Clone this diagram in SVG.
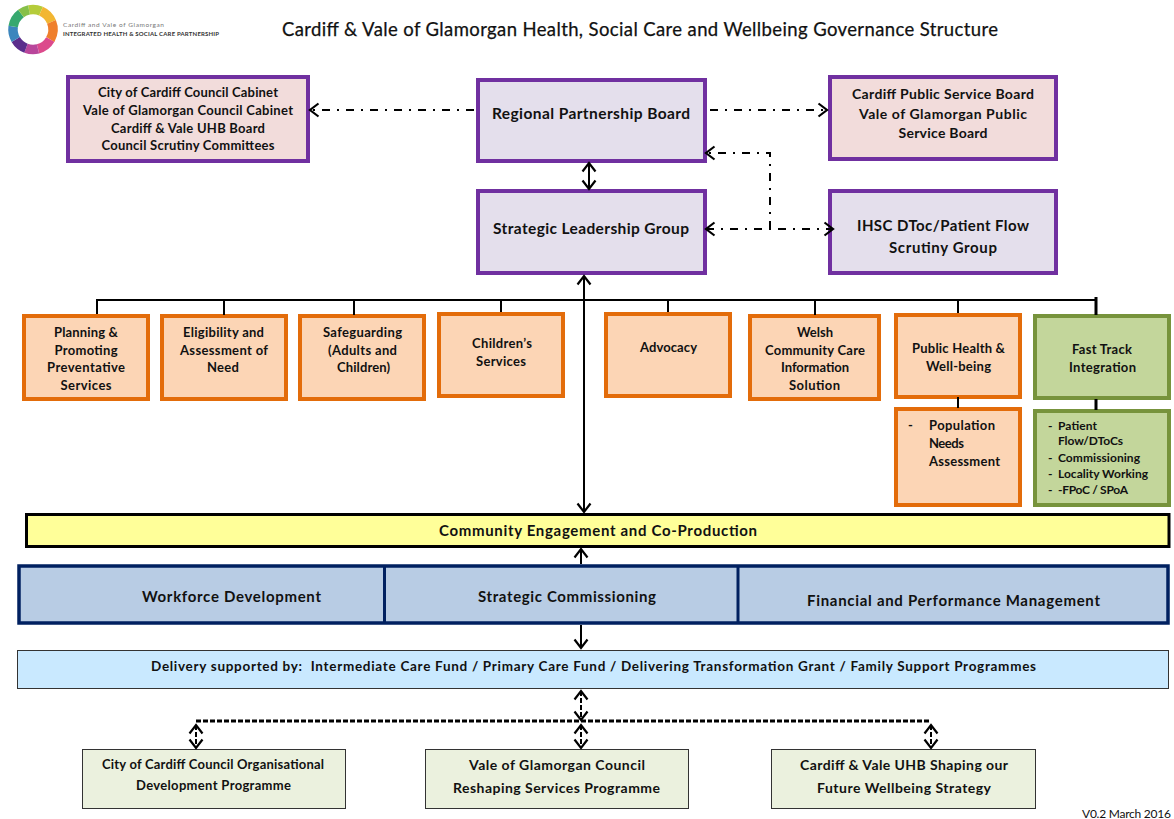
<svg xmlns="http://www.w3.org/2000/svg" width="1174" height="819" viewBox="0 0 1174 819">
<style>
text{font-family:"Lato","Carlito","Liberation Sans",sans-serif;font-weight:700;fill:#111;text-anchor:middle}
.l{text-anchor:start}
.s{font-size:13px}
.m{font-size:15px}
.g{font-size:15.5px}
.pu{fill:#f2dcdb;stroke:#7030a0;stroke-width:4}
.pv{fill:#e4dfec;stroke:#7030a0;stroke-width:4}
.or{fill:#fcd5b5;stroke:#e36c0a;stroke-width:4}
.gr{fill:#c3d69b;stroke:#77933c;stroke-width:4}
.bl{fill:#b8cce4;stroke:#002060;stroke-width:3.500}
.pg{fill:#ebf1de;stroke:#333;stroke-width:1}
.c{fill:none;stroke:#000;stroke-width:2}
.a{marker-start:url(#h);marker-end:url(#h)}
.e{marker-end:url(#h)}
.dd{stroke-dasharray:8 7 2 7}
.da{stroke-dasharray:5 2}
.ring{fill:none;stroke-width:9.5}
</style>
<defs>
<marker id="h" viewBox="-11 -8 13 16" markerWidth="13" markerHeight="16" refX="0" refY="0" orient="auto-start-reverse" markerUnits="userSpaceOnUse">
<path d="M-8.5,-6.5 L0,0 L-8.5,6.5" fill="none" stroke="#000" stroke-width="2.2"/>
</marker>
</defs>
<rect width="1174" height="819" fill="#fff"/>
<g id="logo">
<g class="ring" transform="translate(33 29.5)">
<path d="M-4,-19.6A20,20 0 0 1 8,-18.3" stroke="#b5cc3a"/>
<path d="M8,-18.3A20,20 0 0 1 18.5,-7.6" stroke="#f2b632"/>
<path d="M18.5,-7.6A20,20 0 0 1 17.3,10" stroke="#ef7f2c"/>
<path d="M17.3,10A20,20 0 0 1 5,19.4" stroke="#dc4a8c"/>
<path d="M5,19.4A20,20 0 0 1 -7,18.7" stroke="#b9469b"/>
<path d="M-7,18.7A20,20 0 0 1 -17.3,10" stroke="#5a2d8c"/>
<path d="M-17.3,10A20,20 0 0 1 -19.8,-3" stroke="#3c86bd"/>
<path d="M-19.8,-3A20,20 0 0 1 -12,-16" stroke="#37a86f"/>
<path d="M-12,-16A20,20 0 0 1 -4,-19.6" stroke="#86c049"/>
</g>
<text class="l" x="63" y="27" font-size="6.5" style="font-weight:400;fill:#777" textLength="101">Cardiff and Vale of Glamorgan</text>
<text class="l" x="63" y="36" font-size="6" style="fill:#333" textLength="156">INTEGRATED HEALTH &amp; SOCIAL CARE PARTNERSHIP</text>
</g>
<text id="title" x="640" y="36" font-size="18.5" stroke="#111" stroke-width=".25" style="font-weight:400" textLength="716">Cardiff &amp; Vale of Glamorgan Health, Social Care and Wellbeing Governance Structure</text>
<g id="n-councils"><rect class="pu" x="68" y="77" width="240" height="84"/>
<text class="s" x="188" y="97" textLength="180">City of Cardiff Council Cabinet</text>
<text class="s" x="188" y="115" textLength="210">Vale of Glamorgan Council Cabinet</text>
<text class="s" x="188" y="133" textLength="154">Cardiff &amp; Vale UHB Board</text>
<text class="s" x="188" y="150" textLength="173">Council Scrutiny Committees</text></g>
<g id="n-rpb"><rect class="pv" x="478" y="80" width="227" height="81"/>
<text class="g" x="591" y="119" textLength="198">Regional Partnership Board</text></g>
<g id="n-psb"><rect class="pu" x="830" y="77" width="226" height="82"/>
<text class="m" x="943" y="99" textLength="182" style="font-size:14px">Cardiff Public Service Board</text>
<text class="m" x="943" y="119" textLength="168" style="font-size:14px">Vale of Glamorgan Public</text>
<text class="m" x="943" y="138" textLength="89" style="font-size:14px">Service Board</text></g>
<g id="n-slg"><rect class="pv" x="478" y="191" width="227" height="82"/>
<text class="g" x="591" y="234" textLength="196">Strategic Leadership Group</text></g>
<g id="n-ihsc"><rect class="pv" x="830" y="191" width="226" height="82"/>
<text class="m" x="943" y="231" textLength="172">IHSC DToc/Patient Flow</text>
<text class="m" x="943" y="253" textLength="108">Scrutiny Group</text></g>
<g id="n-planning"><rect class="or" x="24" y="316" width="124" height="83"/>
<text class="s" x="86" y="337" textLength="64">Planning &amp;</text>
<text class="s" x="86" y="355" textLength="63">Promoting</text>
<text class="s" x="86" y="372" textLength="78">Preventative</text>
<text class="s" x="86" y="390" textLength="51">Services</text></g>
<g id="n-eligibility"><rect class="or" x="162" y="316" width="124" height="83"/>
<text class="s" x="223.500" y="337" textLength="81">Eligibility and</text>
<text class="s" x="224" y="355" textLength="88">Assessment of</text>
<text class="s" x="223" y="372" textLength="32">Need</text></g>
<g id="n-safeguarding"><rect class="or" x="300" y="316" width="124" height="83"/>
<text class="s" x="362.500" y="337" textLength="79">Safeguarding</text>
<text class="s" x="362.500" y="355" textLength="69">(Adults and</text>
<text class="s" x="363.500" y="372" textLength="53">Children)</text></g>
<g id="n-children"><rect class="or" x="439" y="314" width="124" height="82"/>
<text class="s" x="502" y="348" textLength="60">Children’s</text>
<text class="s" x="501" y="366" textLength="50">Services</text></g>
<g id="n-advocacy"><rect class="or" x="606" y="314" width="124" height="82"/>
<text class="s" x="668.500" y="352" textLength="57">Advocacy</text></g>
<g id="n-welsh"><rect class="or" x="750" y="316" width="129" height="83"/>
<text class="s" x="815" y="337" textLength="36">Welsh</text>
<text class="s" x="815" y="355" textLength="100">Community Care</text>
<text class="s" x="815" y="372" textLength="68">Information</text>
<text class="s" x="814.500" y="390" textLength="51">Solution</text></g>
<g id="n-health"><rect class="or" x="896" y="315" width="124" height="82"/>
<text class="s" x="958.500" y="353" textLength="93">Public Health &amp;</text>
<text class="s" x="958.500" y="371" textLength="65">Well-being</text></g>
<g id="n-population"><rect class="or" x="896" y="409" width="124" height="96"/>
<text class="s l" x="908" y="430">-</text>
<text class="s l" x="929" y="430" textLength="66">Population</text>
<text class="s l" x="929" y="448" textLength="35">Needs</text>
<text class="s l" x="929" y="466" textLength="71">Assessment</text></g>
<g id="n-fast"><rect class="gr" x="1035" y="316" width="134" height="82"/>
<text class="s" x="1102" y="354" textLength="60">Fast Track</text>
<text class="s" x="1102.500" y="372" textLength="67">Integration</text></g>
<g id="n-fastlist"><rect class="gr" x="1035" y="411" width="134" height="94"/>
<text class="l" x="1048" y="430" font-size="12">-</text>
<text class="l" x="1058" y="430" font-size="12" textLength="39">Patient</text>
<text class="l" x="1058" y="445" font-size="12" textLength="65">Flow/DToCs</text>
<text class="l" x="1048" y="462" font-size="12">-</text>
<text class="l" x="1058" y="462" font-size="12" textLength="82">Commissioning</text>
<text class="l" x="1048" y="478" font-size="12">-</text>
<text class="l" x="1058" y="478" font-size="12" textLength="90">Locality Working</text>
<text class="l" x="1048" y="494" font-size="12">-</text>
<text class="l" x="1058" y="494" font-size="12" textLength="70">-FPoC / SPoA</text>
</g>
<g id="n-community"><rect x="26.500" y="514.500" width="1142.500" height="32" fill="#ffff99" stroke="#000" stroke-width="3"/>
<text class="m" x="598" y="536" textLength="318">Community Engagement and Co-Production</text></g>
<g id="n-support"><rect class="bl" x="19" y="566" width="1149" height="57"/>
<path d="M384.500,566V623M738,566V623" stroke="#002060" stroke-width="3" fill="none"/>
<text class="m" x="231.500" y="602" textLength="179">Workforce Development</text>
<text class="m" x="567" y="602" textLength="178">Strategic Commissioning</text>
<text class="m" x="953.500" y="606" textLength="293">Financial and Performance Management</text></g>
<g id="n-delivery"><rect x="17.500" y="650.500" width="1151" height="38" fill="#c9e9ff" stroke="#333" stroke-width="1"/>
<text class="s" x="593.500" y="671" textLength="885" xml:space="preserve" style="font-size:13.5px">Delivery supported by:  Intermediate Care Fund / Primary Care Fund / Delivering Transformation Grant / Family Support Programmes</text></g>
<g id="n-cardiff-od"><rect class="pg" x="82.500" y="749.500" width="263" height="59"/>
<text class="s" x="213" y="769" textLength="222">City of Cardiff Council Organisational</text>
<text class="s" x="213.500" y="790" textLength="155">Development Programme</text></g>
<g id="n-vale"><rect class="pg" x="425.500" y="749.500" width="263" height="59"/>
<text class="s" x="557" y="770" textLength="176" style="font-size:14px">Vale of Glamorgan Council</text>
<text class="s" x="556.500" y="793" textLength="207" style="font-size:14px">Reshaping Services Programme</text></g>
<g id="n-uhb"><rect class="pg" x="771.500" y="749.500" width="264" height="59"/>
<text class="s" x="904" y="770" textLength="208" style="font-size:14px">Cardiff &amp; Vale UHB Shaping our</text>
<text class="s" x="904" y="793" textLength="174" style="font-size:14px">Future Wellbeing Strategy</text></g>
<text id="version" x="1126.500" y="818" font-size="12" textLength="89" style="font-weight:400">V0.2 March 2016</text>
<g id="connectors">
<path class="c e dd" d="M474,110H310"/>
<path class="c e dd" d="M710,110H827"/>
<path class="c a" d="M589,163V189"/>
<path class="c e dd" d="M770,229V153H706"/>
<path class="c a dd" d="M706,229H833"/>
<path class="c" d="M97,314V300H1097M224,300V315M354,300V315M501,300V312M668,300V312M815,300V315M958,300V313M958,397V408"/>
<path d="M1096,297V315M1096,399V410" stroke="#000" stroke-width="3" fill="none"/>
<path class="c a" d="M584,276V512"/>
<path class="c e" d="M581,564V549"/>
<path class="c e" d="M581,625V648"/>
<path d="M196,721H931" fill="none" stroke="#000" stroke-width="3" stroke-dasharray="5 2"/>
<path class="c a da" d="M581,691V720"/>
<path class="c a da" d="M196,725V748"/>
<path class="c a da" d="M581,725V748"/>
<path class="c a da" d="M931,725V748"/>
</g>
</svg>
